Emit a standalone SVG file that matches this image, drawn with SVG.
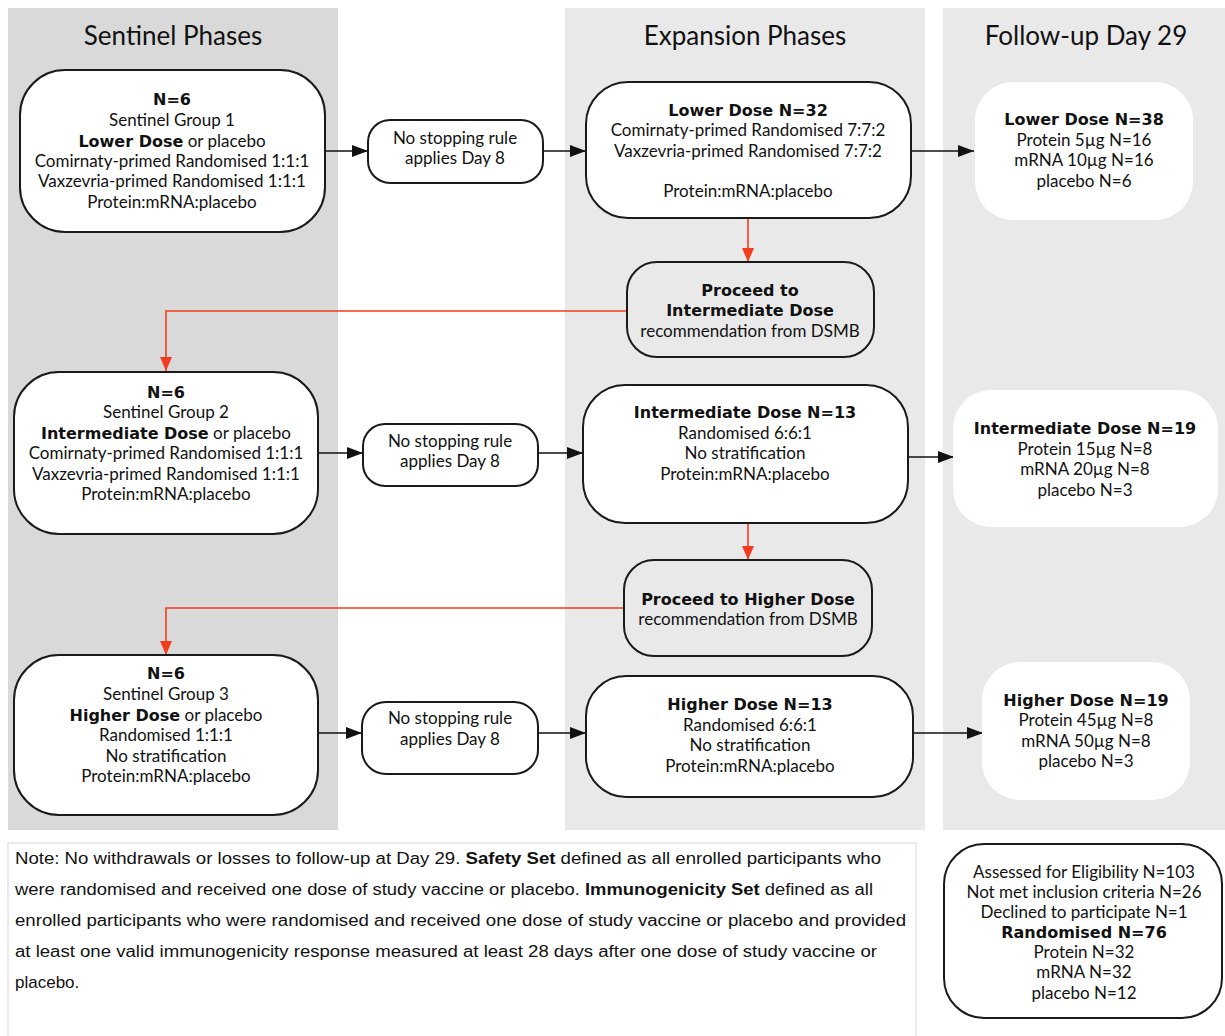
<svg xmlns="http://www.w3.org/2000/svg" width="1225" height="1036" viewBox="0 0 1225 1036">
<defs>
<marker id="ab" viewBox="0 0 16 12" refX="16" refY="6" markerWidth="16" markerHeight="12" markerUnits="userSpaceOnUse" orient="auto"><path d="M0,0 L16,6 L0,12 z" fill="#111"/></marker>
<marker id="ar" viewBox="0 0 14 12" refX="14" refY="6" markerWidth="14" markerHeight="12" markerUnits="userSpaceOnUse" orient="auto"><path d="M0,0 L14,6 L0,12 z" fill="#f53b1d"/></marker>
</defs>
<style>
text{font-family:Lato,"Open Sans","Liberation Sans",sans-serif;font-size:17px;fill:#111;text-anchor:middle}
.t{font-size:26px}
.b{font-family:"DejaVu Sans",Verdana,sans-serif;font-weight:bold;font-size:16px}
.n{fill:#fff;stroke:#1a1a1a;stroke-width:2}
.g{fill:#e9e9e9;stroke:#1a1a1a;stroke-width:2}
.w{fill:#fff;stroke:none}
.k{stroke:#111;stroke-width:1.6;fill:none}
.r{stroke:#f53b1d;stroke-width:1.6;fill:none}
.note{font-family:"Liberation Sans",Arial,sans-serif;font-size:16px;text-anchor:start}
.nb{font-weight:bold}
</style>
<rect width="1225" height="1036" fill="#fff"/>
<g id="panels">
<rect x="8" y="8" width="330" height="822" fill="#d9d9d9"/>
<rect x="565" y="8" width="360" height="822" fill="#e9e9e9"/>
<rect x="943" y="8" width="282" height="822" fill="#e9e9e9"/>
<text class="t" x="173" y="45">Sentinel Phases</text>
<text class="t" x="745" y="45">Expansion Phases</text>
<text class="t" x="1086" y="45">Follow-up Day 29</text>
</g>
<g id="connectors">
<line class="k" x1="325" y1="151" x2="368" y2="151" marker-end="url(#ab)"/>
<line class="k" x1="543" y1="151" x2="586" y2="151" marker-end="url(#ab)"/>
<line class="k" x1="911" y1="151" x2="974" y2="151" marker-end="url(#ab)"/>
<line class="r" x1="748" y1="218" x2="748" y2="262" marker-end="url(#ar)"/>
<polyline class="r" points="627,311 166,311 166,371" marker-end="url(#ar)"/>
<line class="k" x1="318" y1="453" x2="363" y2="453" marker-end="url(#ab)"/>
<line class="k" x1="538" y1="453" x2="583" y2="453" marker-end="url(#ab)"/>
<line class="k" x1="908" y1="457" x2="954" y2="457" marker-end="url(#ab)"/>
<line class="r" x1="748" y1="523" x2="748" y2="560" marker-end="url(#ar)"/>
<polyline class="r" points="624,608 166,608 166,655" marker-end="url(#ar)"/>
<line class="k" x1="318" y1="733" x2="362" y2="733" marker-end="url(#ab)"/>
<line class="k" x1="538" y1="733" x2="586" y2="733" marker-end="url(#ab)"/>
<line class="k" x1="913" y1="733" x2="983" y2="733" marker-end="url(#ab)"/>
</g>
<g id="s1">
<rect class="n" x="20" y="70" width="305" height="162" rx="45" ry="45"/>
<text x="172" y="105" class="b">N=6</text>
<text x="172" y="126">Sentinel Group 1</text>
<text x="172" y="147"><tspan class="b">Lower Dose</tspan> or placebo</text>
<text x="172" y="167">Comirnaty-primed Randomised 1:1:1</text>
<text x="172" y="187">Vaxzevria-primed Randomised 1:1:1</text>
<text x="172" y="208">Protein:mRNA:placebo</text>
</g>
<g id="nsr1">
<rect class="n" x="368" y="120" width="175" height="63" rx="22" ry="22"/>
<text x="455" y="144">No stopping rule</text>
<text x="455" y="164">applies Day 8</text>
</g>
<g id="e1">
<rect class="n" x="586" y="82" width="325" height="136" rx="42" ry="42"/>
<text x="748" y="116" class="b">Lower Dose N=32</text>
<text x="748" y="136">Comirnaty-primed Randomised 7:7:2</text>
<text x="748" y="157">Vaxzevria-primed Randomised 7:7:2</text>
<text x="748" y="197">Protein:mRNA:placebo</text>
</g>
<g id="f1">
<rect class="w" x="975" y="82" width="218" height="138" rx="38" ry="38"/>
<text x="1084" y="125" class="b">Lower Dose N=38</text>
<text x="1084" y="146">Protein 5µg N=16</text>
<text x="1084" y="166">mRNA 10µg N=16</text>
<text x="1084" y="187">placebo N=6</text>
</g>
<g id="p1">
<rect class="g" x="627" y="262" width="247" height="95" rx="30" ry="30"/>
<text x="750" y="296" class="b">Proceed to</text>
<text x="750" y="316" class="b">Intermediate Dose</text>
<text x="750" y="337">recommendation from DSMB</text>
</g>
<g id="s2">
<rect class="n" x="14" y="372" width="304" height="162" rx="45" ry="45"/>
<text x="166" y="398" class="b">N=6</text>
<text x="166" y="418">Sentinel Group 2</text>
<text x="166" y="439"><tspan class="b">Intermediate Dose</tspan> or placebo</text>
<text x="166" y="459">Comirnaty-primed Randomised 1:1:1</text>
<text x="166" y="480">Vaxzevria-primed Randomised 1:1:1</text>
<text x="166" y="500">Protein:mRNA:placebo</text>
</g>
<g id="nsr2">
<rect class="n" x="363" y="424" width="175" height="62" rx="22" ry="22"/>
<text x="450" y="447">No stopping rule</text>
<text x="450" y="467">applies Day 8</text>
</g>
<g id="e2">
<rect class="n" x="583" y="385" width="325" height="138" rx="42" ry="42"/>
<text x="745" y="418" class="b">Intermediate Dose N=13</text>
<text x="745" y="439">Randomised 6:6:1</text>
<text x="745" y="459">No stratification</text>
<text x="745" y="480">Protein:mRNA:placebo</text>
</g>
<g id="f2">
<rect class="w" x="953" y="390" width="265" height="137" rx="38" ry="38"/>
<text x="1085" y="434" class="b">Intermediate Dose N=19</text>
<text x="1085" y="455">Protein 15µg N=8</text>
<text x="1085" y="475">mRNA 20µg N=8</text>
<text x="1085" y="496">placebo N=3</text>
</g>
<g id="p2">
<rect class="g" x="624" y="560" width="248" height="96" rx="30" ry="30"/>
<text x="748" y="605" class="b">Proceed to Higher Dose</text>
<text x="748" y="625">recommendation from DSMB</text>
</g>
<g id="s3">
<rect class="n" x="14" y="655" width="304" height="160" rx="45" ry="45"/>
<text x="166" y="679" class="b">N=6</text>
<text x="166" y="700">Sentinel Group 3</text>
<text x="166" y="721"><tspan class="b">Higher Dose</tspan> or placebo</text>
<text x="166" y="741">Randomised 1:1:1</text>
<text x="166" y="762">No stratification</text>
<text x="166" y="782">Protein:mRNA:placebo</text>
</g>
<g id="nsr3">
<rect class="n" x="362" y="702" width="176" height="72" rx="24" ry="24"/>
<text x="450" y="724">No stopping rule</text>
<text x="450" y="745">applies Day 8</text>
</g>
<g id="e3">
<rect class="n" x="586" y="676" width="327" height="121" rx="40" ry="40"/>
<text x="750" y="710" class="b">Higher Dose N=13</text>
<text x="750" y="731">Randomised 6:6:1</text>
<text x="750" y="751">No stratification</text>
<text x="750" y="772">Protein:mRNA:placebo</text>
</g>
<g id="f3">
<rect class="w" x="982" y="662" width="208" height="138" rx="38" ry="38"/>
<text x="1086" y="706" class="b">Higher Dose N=19</text>
<text x="1086" y="726">Protein 45µg N=8</text>
<text x="1086" y="747">mRNA 50µg N=8</text>
<text x="1086" y="767">placebo N=3</text>
</g>
<g id="note">
<rect x="8" y="843" width="908" height="200" fill="#fff" stroke="#dcdcdc" stroke-width="1.2"/>
<text class="note" x="15" y="864" textLength="866" lengthAdjust="spacingAndGlyphs">Note: No withdrawals or losses to follow-up at Day 29. <tspan class="nb">Safety Set</tspan> defined as all enrolled participants who</text>
<text class="note" x="15" y="895" textLength="858" lengthAdjust="spacingAndGlyphs">were randomised and received one dose of study vaccine or placebo. <tspan class="nb">Immunogenicity Set</tspan> defined as all</text>
<text class="note" x="15" y="926" textLength="891" lengthAdjust="spacingAndGlyphs">enrolled participants who were randomised and received one dose of study vaccine or placebo and provided</text>
<text class="note" x="15" y="957" textLength="862" lengthAdjust="spacingAndGlyphs">at least one valid immunogenicity response measured at least 28 days after one dose of study vaccine or</text>
<text class="note" x="15" y="988" style="font-size:17px">placebo.</text>
</g>
<g id="elig">
<rect class="n" x="944" y="844" width="278" height="174" rx="40" ry="40"/>
<text x="1084" y="878">Assessed for Eligibility N=103</text>
<text x="1084" y="898">Not met inclusion criteria N=26</text>
<text x="1084" y="918">Declined to participate N=1</text>
<text x="1084" y="938" class="b">Randomised N=76</text>
<text x="1084" y="958">Protein N=32</text>
<text x="1084" y="978">mRNA N=32</text>
<text x="1084" y="999">placebo N=12</text>
</g>
</svg>
